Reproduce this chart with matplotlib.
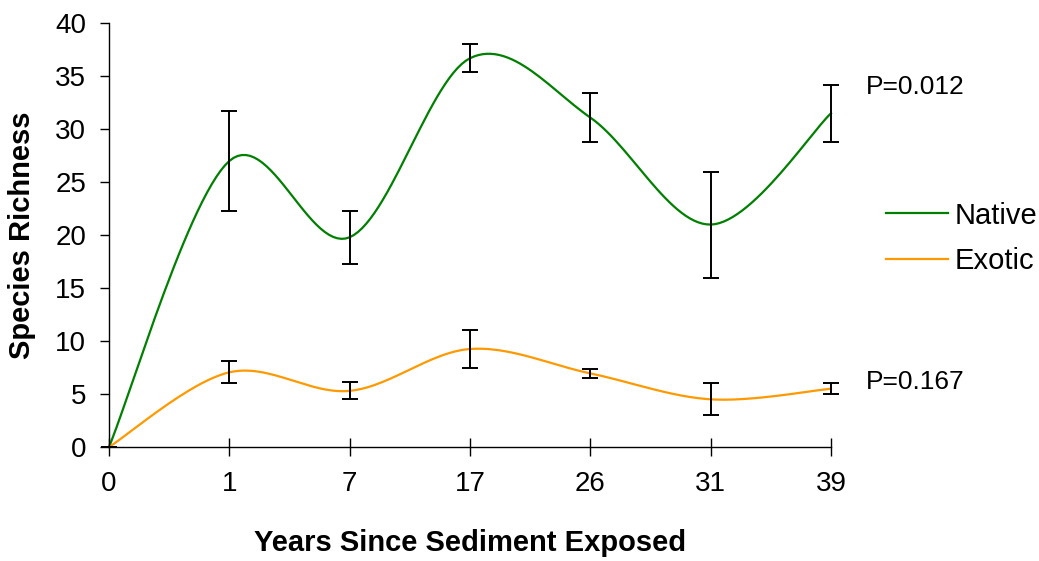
import numpy as np
import matplotlib
matplotlib.use("Agg")
import matplotlib.pyplot as plt

plt.rcParams['font.family'] = ['Liberation Sans', 'DejaVu Sans']

years = ["0", "1", "7", "17", "26", "31", "39"]
native = [0, 27.0, 19.8, 36.7, 31.1, 21.0, 31.5]
native_err = [0, 4.7, 2.5, 1.3, 2.3, 5.0, 2.7]
exotic = [0, 7.05, 5.3, 9.25, 6.95, 4.5, 5.5]
exotic_err = [0, 1.05, 0.8, 1.75, 0.45, 1.5, 0.5]


def smooth(xs, ys, n=30):
    # excel-style smoothed line (bezier, catmull-rom control points)
    xs = np.asarray(xs, float)
    ys = np.asarray(ys, float)
    pts = np.column_stack([xs, ys])
    ext = np.vstack([pts[0], pts, pts[-1]])
    out = []
    t = np.linspace(0, 1, n)[:, None]
    for i in range(len(pts) - 1):
        p0, p1, p2, p3 = ext[i], ext[i + 1], ext[i + 2], ext[i + 3]
        c1 = p1 + (p2 - p0) / 6
        c2 = p2 - (p3 - p1) / 6
        seg = ((1 - t) ** 3) * p1 + 3 * ((1 - t) ** 2) * t * c1 + 3 * (1 - t) * t ** 2 * c2 + t ** 3 * p2
        out.append(seg if i == 0 else seg[1:])
    out = np.vstack(out)
    return out[:, 0], out[:, 1]


fig = plt.figure(figsize=(10.39, 5.61), dpi=100)
ax = fig.add_axes([0.1049, 0.2032, 0.6949, 0.7553])

x = np.arange(len(years))
green = "#008000"
orange = "#FF9900"

sx, sy = smooth(x, native)
ax.plot(sx, sy, color=green, lw=1.6, label="Native", clip_on=False)
sx, sy = smooth(x, exotic)
ax.plot(sx, sy, color=orange, lw=1.6, label="Exotic", clip_on=False)

ax.errorbar(x, native, yerr=native_err, fmt="none", ecolor="black",
            elinewidth=1.4, capsize=6, capthick=1.4, clip_on=False)
ax.errorbar(x, exotic, yerr=exotic_err, fmt="none", ecolor="black",
            elinewidth=1.4, capsize=6, capthick=1.4, clip_on=False)

ax.set_xlim(0, 6)
ax.set_ylim(0, 40)
ax.set_yticks(np.arange(0, 41, 5))
ax.set_xticks(x)
ax.set_xticklabels(years)

for s in ["top", "right"]:
    ax.spines[s].set_visible(False)
for s in ["left", "bottom"]:
    ax.spines[s].set_linewidth(1.0)

ax.tick_params(axis="y", direction="out", length=6.5, width=1.0, labelsize=20, pad=10)
ax.tick_params(axis="x", direction="inout", length=13, width=1.0, labelsize=20, pad=11)

ax.set_xlabel("Years Since Sediment Exposed", fontsize=21, fontweight="bold", labelpad=23)
ax.set_ylabel("Species Richness", fontsize=21, fontweight="bold", labelpad=14)

ax.text(1.048, 0.85, "P=0.012", transform=ax.transAxes, fontsize=19, va="center", ha="left")
ax.text(1.048, 0.153, "P=0.167", transform=ax.transAxes, fontsize=19, va="center", ha="left")

fig.legend(loc="center left", bbox_to_anchor=(0.853, 0.575), frameon=False,
           fontsize=21, handlelength=2.1, handletextpad=0.25, labelspacing=0.6,
           borderpad=0, borderaxespad=0)

fig.savefig("out.png", dpi=100)
